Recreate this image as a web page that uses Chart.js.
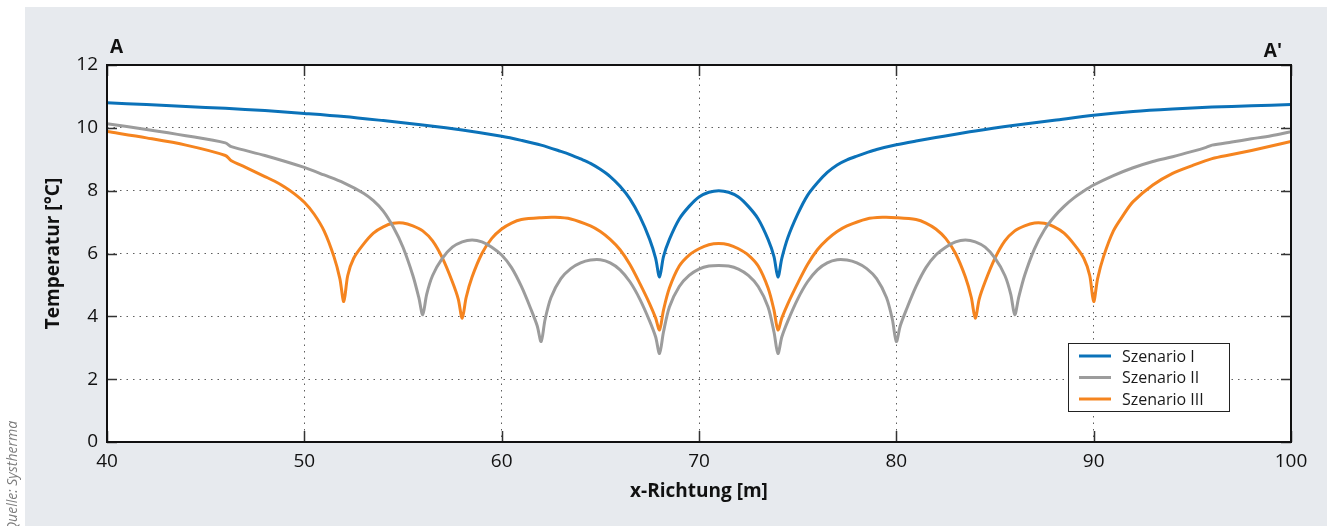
<!DOCTYPE html>
<html lang="de">
<head>
<meta charset="utf-8">
<title>Temperatur entlang A–A'</title>
<script src="https://cdn.jsdelivr.net/npm/chart.js@4.4.1/dist/chart.umd.min.js"></script>
<style>
    html, body { margin: 0; padding: 0; background: #fff; }
    #chart-temp { display: block; }
</style>
</head>
<body>
<canvas id="chart-temp" width="1327" height="526"></canvas>
<script>
// Values (x in m, temperature in °C)
const seriesLabels = ["Szenario I", "Szenario II", "Szenario III"];
const seriesColors = ["#0b72b9", "#9c9c9c", "#f5841f"];

const xTicks = [40, 50, 60, 70, 80, 90, 100];
const yTicks = [0, 2, 4, 6, 8, 10, 12];

const xS1 = [40, 42, 44, 46, 48, 50, 52, 54, 56, 58, 60, 61, 62, 63, 63.5, 64, 64.5, 65, 65.5, 66, 66.5, 67, 67.5,
    67.8, 68, 68.2, 68.5, 69, 69.5, 70, 70.5, 71, 71.5, 72, 72.5, 73, 73.5, 73.8, 74, 74.2, 74.5, 75, 75.5, 76,
    76.5, 77, 77.5, 78, 78.5, 79, 80, 81, 82, 84, 86, 88, 90, 92, 94, 96, 98, 100];
const yS1 = [10.80, 10.74, 10.68, 10.62, 10.55, 10.46, 10.36, 10.23, 10.09, 9.93, 9.73, 9.60, 9.45, 9.25, 9.14,
    9.01, 8.87, 8.68, 8.45, 8.14, 7.74, 7.18, 6.45, 5.85, 5.25,
    5.9, 6.45, 7.1, 7.5, 7.8, 7.95, 8.0, 7.95, 7.8, 7.5, 7.1, 6.45, 5.9, 5.25, 5.85, 6.5, 7.25, 7.85, 8.25,
    8.58, 8.82, 8.98, 9.1, 9.21, 9.31, 9.46, 9.58, 9.69, 9.90, 10.08, 10.24, 10.40, 10.52, 10.60, 10.66, 10.70,
    10.74];

const xS2 = [40, 42, 44, 46, 46.3, 48, 50, 51, 52, 53, 53.5, 54, 54.5, 55, 55.5, 55.8, 56, 56.2, 56.5, 57, 57.5,
    58, 58.5, 59, 59.5, 60, 60.5, 61, 61.5, 61.8, 62, 62.2, 62.5, 63, 63.5, 64, 64.5, 65, 65.5, 66, 66.5, 67, 67.5,
    67.8, 68, 68.2, 68.5, 69, 69.5, 70, 70.5, 71, 71.5, 72, 72.5, 73, 73.5, 73.8, 74, 74.2, 74.5, 75, 75.5, 76,
    76.5, 77, 77.5, 78, 78.5, 79, 79.5, 79.8, 80, 80.2, 80.5, 81, 81.5, 82, 82.5, 83, 83.5, 84, 84.5, 85, 85.5,
    85.8, 86, 86.2, 86.5, 87, 87.5, 88, 88.5, 89, 89.5, 90, 91, 92, 93, 94, 95, 95.7, 96, 97, 98, 99, 100];
const yS2 = [10.13, 9.95, 9.75, 9.52, 9.40, 9.12, 8.74, 8.50, 8.25, 7.92, 7.68, 7.35, 6.85, 6.2, 5.3, 4.6, 4.05,
    4.7, 5.3, 5.85, 6.2, 6.37, 6.43, 6.37, 6.2, 5.95, 5.55, 4.95, 4.2, 3.7, 3.2, 3.9, 4.6, 5.2, 5.52, 5.7, 5.79,
    5.8, 5.7, 5.48, 5.1, 4.55, 3.85, 3.35, 2.82, 3.5, 4.3, 4.95, 5.3, 5.5, 5.6, 5.62, 5.6, 5.5, 5.3, 4.95, 4.3,
    3.5, 2.82, 3.35, 3.85, 4.55, 5.1, 5.48, 5.7, 5.8, 5.79, 5.7, 5.52, 5.2, 4.6, 3.9, 3.2, 3.7, 4.2, 4.95,
    5.55, 5.95, 6.2, 6.37, 6.43, 6.37, 6.2, 5.85, 5.3, 4.7, 4.05, 4.6, 5.3, 6.15, 6.75, 7.17, 7.5, 7.77, 7.99,
    8.18, 8.48, 8.73, 8.93, 9.08, 9.25, 9.38, 9.45, 9.55, 9.65, 9.75, 9.88];

const xS3 = [40, 42, 44, 46, 46.3, 47, 48, 48.5, 49, 49.5, 50, 50.5, 51, 51.5, 51.8, 52, 52.2, 52.5, 53, 53.5, 54,
    54.5, 55, 55.5, 56, 56.5, 57, 57.5, 57.8, 58, 58.2, 58.5, 59, 59.5, 60, 60.5, 61, 62, 62.7, 63.5, 64.5, 65,
    65.5, 66, 66.5, 67, 67.5, 67.8, 68, 68.2, 68.5, 69, 69.5, 70, 70.5, 71, 71.5, 72, 72.5, 73, 73.5, 73.8, 74,
    74.2, 74.5, 75, 75.5, 76, 76.5, 77, 77.5, 78.5, 79.3, 80, 81, 81.5, 82, 82.5, 83, 83.5, 83.8, 84, 84.2, 84.5,
    85, 85.5, 86, 86.5, 87, 87.5, 88, 88.5, 89, 89.5, 89.8, 90, 90.2, 90.5, 91, 91.5, 92, 93, 94, 95, 96, 97,
    98, 99, 100];
const yS3 = [9.88, 9.68, 9.45, 9.12, 8.95, 8.75, 8.45, 8.3, 8.12, 7.9, 7.63, 7.25, 6.72, 5.9, 5.2, 4.47, 5.3,
    5.85, 6.3, 6.65, 6.85, 6.96, 6.97, 6.88, 6.72, 6.4, 5.85, 5.1, 4.55, 3.94, 4.6, 5.25, 6.0, 6.48, 6.78, 6.97,
    7.08, 7.14, 7.15, 7.1, 6.88, 6.7, 6.45, 6.12, 5.65, 5.05, 4.4, 3.95, 3.57, 4.2, 4.9, 5.6, 5.95, 6.15, 6.28,
    6.32, 6.28, 6.15, 5.95, 5.6, 4.9, 4.2, 3.57, 3.95, 4.4, 5.05, 5.65, 6.12, 6.45, 6.7, 6.88, 7.1, 7.15, 7.14,
    7.08, 6.97, 6.78, 6.48, 6.0, 5.25, 4.6, 3.94, 4.55, 5.1, 5.85, 6.4, 6.72, 6.88, 6.97, 6.96, 6.85, 6.65, 6.3,
    5.85, 5.3, 4.47, 5.2, 5.9, 6.72, 7.22, 7.65, 8.18, 8.55, 8.8, 9.02, 9.15, 9.28, 9.42, 9.57];

const FONT = "'Open Sans', 'DejaVu Sans', sans-serif";

function toPoints(xs, ys) {
    return xs.map((x, i) => ({ x: x, y: ys[i] }));
}

function makeDataset(i, xs, ys) {
    return {
        label: seriesLabels[i],
        data: toPoints(xs, ys),
        borderColor: seriesColors[i],
        borderWidth: 3,
        pointRadius: 0,
        tension: 0.3,
        fill: false,
        borderJoinStyle: "round",
    };
}

// Grey panel, white plot area, inward ticks, frame, legend box and side notes
const decorPlugin = {
    id: "decor",
    beforeDraw(chart) {
        const { ctx, chartArea: a } = chart;
        ctx.save();
        ctx.fillStyle = "#fff";
        ctx.fillRect(0, 0, chart.width, chart.height);
        ctx.fillStyle = "#e7eaee";
        ctx.fillRect(25, 7, chart.width - 25, chart.height - 7);
        ctx.fillStyle = "#fff";
        ctx.fillRect(a.left, a.top, a.right - a.left, a.bottom - a.top);
        ctx.restore();
    },
    afterDraw(chart) {
        const { ctx, chartArea: a, scales } = chart;
        ctx.save();

        // inward major ticks on all four sides
        ctx.strokeStyle = "#333";
        ctx.lineWidth = 1.5;
        ctx.beginPath();
        yTicks.forEach(v => {
            const y = Math.round(scales.y.getPixelForValue(v)) + 0.5;
            ctx.moveTo(a.left, y); ctx.lineTo(a.left + 10, y);
            ctx.moveTo(a.right, y); ctx.lineTo(a.right - 10, y);
        });
        xTicks.forEach(v => {
            const x = Math.round(scales.x.getPixelForValue(v)) + 0.5;
            ctx.moveTo(x, a.bottom); ctx.lineTo(x, a.bottom - 11);
            ctx.moveTo(x, a.top); ctx.lineTo(x, a.top + 11);
        });
        ctx.stroke();

        // frame
        ctx.strokeStyle = "#111";
        ctx.lineWidth = 2;
        ctx.strokeRect(a.left, a.top, a.right - a.left, a.bottom - a.top);

        // legend
        const bx = a.left + 961, by = a.top + 278, bw = 161, bh = 68;
        ctx.fillStyle = "#fff";
        ctx.fillRect(bx, by, bw, bh);
        ctx.strokeStyle = "#222";
        ctx.lineWidth = 1;
        ctx.strokeRect(bx + 0.5, by + 0.5, bw, bh);
        ctx.font = "16px " + FONT;
        ctx.textBaseline = "middle";
        ctx.textAlign = "left";
        seriesLabels.forEach((lab, i) => {
            const ly = by + 13 + i * 21.5;
            ctx.strokeStyle = seriesColors[i];
            ctx.lineWidth = 3;
            ctx.beginPath();
            ctx.moveTo(bx + 11, ly);
            ctx.lineTo(bx + 43, ly);
            ctx.stroke();
            ctx.fillStyle = "#1a1a1a";
            ctx.fillText(lab, bx + 54, ly + 1);
        });

        // section labels
        ctx.fillStyle = "#111";
        ctx.font = "bold 19px " + FONT;
        ctx.textBaseline = "alphabetic";
        ctx.textAlign = "left";
        ctx.fillText("A", a.left + 3, 53);
        ctx.textAlign = "right";
        ctx.fillText("A'", a.right - 9, 57);

        // source note, rotated
        ctx.translate(17, 532);
        ctx.rotate(-Math.PI / 2);
        ctx.font = "italic 14px " + FONT;
        ctx.fillStyle = "#7d7d7d";
        ctx.textAlign = "left";
        ctx.fillText("Quelle: Systherma", 0, 0);

        ctx.restore();
    },
};

function renderTempChart() {
    const ctx = document.getElementById("chart-temp").getContext("2d");
    return new Chart(ctx, {
        type: "line",
        data: {
            datasets: [
                makeDataset(0, xS1, yS1),
                makeDataset(1, xS2, yS2),
                makeDataset(2, xS3, yS3),
            ],
        },
        options: {
            responsive: false,
            animation: false,
            devicePixelRatio: 1,
            layout: { padding: { left: 42, top: 65, right: 36, bottom: 23 } },
            plugins: {
                legend: { display: false },
                tooltip: { enabled: false },
            },
            scales: {
                x: {
                    type: "linear",
                    min: 40,
                    max: 100,
                    afterFit: s => { s.height = 61; },
                    afterBuildTicks: s => { s.ticks = xTicks.map(v => ({ value: v })); },
                    ticks: { color: "#111", padding: 8, maxRotation: 0, font: { family: FONT, size: 19 } },
                    grid: { color: "rgba(40,40,40,0.75)", lineWidth: 1, drawTicks: false },
                    border: { display: false, dash: [1.5, 5] },
                    title: {
                        display: true,
                        text: "x-Richtung [m]",
                        color: "#111",
                        padding: 0,
                        font: { family: FONT, size: 19, weight: "bold" },
                    },
                },
                y: {
                    min: 0,
                    max: 12,
                    afterFit: s => { s.width = 65; },
                    afterBuildTicks: s => { s.ticks = yTicks.map(v => ({ value: v })); },
                    ticks: { color: "#111", padding: 9, font: { family: FONT, size: 19 } },
                    grid: { color: "rgba(40,40,40,0.75)", lineWidth: 1, drawTicks: false },
                    border: { display: false, dash: [1.5, 5] },
                    title: {
                        display: true,
                        text: "Temperatur [°C]",
                        color: "#111",
                        padding: 0,
                        font: { family: FONT, size: 19, weight: "bold" },
                    },
                },
            },
        },
        plugins: [decorPlugin],
    });
}

renderTempChart();
</script>
</body>
</html>
